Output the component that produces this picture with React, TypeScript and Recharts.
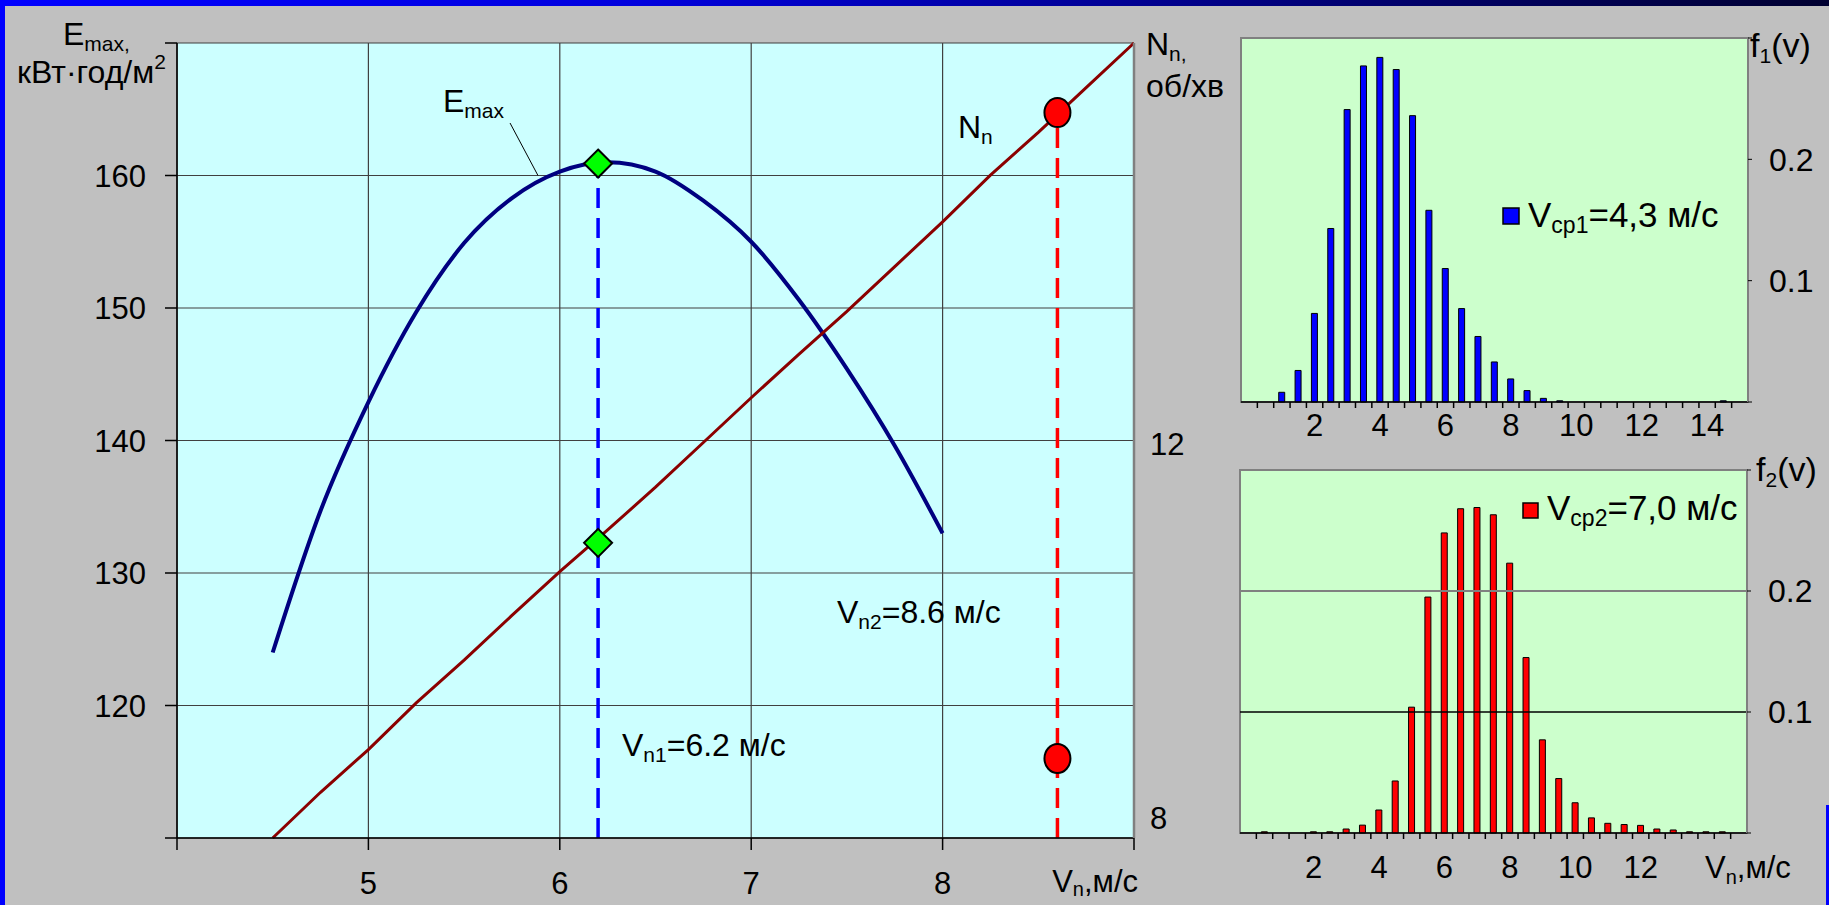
import React from 'react';
import {
  ComposedChart,
  BarChart,
  Bar,
  Line,
  Scatter,
  XAxis,
  YAxis,
  CartesianGrid,
  ReferenceLine,
  ReferenceArea,
} from 'recharts';

const FONT = '"Liberation Sans", Arial, Helvetica, sans-serif';

// main chart: Emax(V) curve and rotor speed Nn(V)
const emaxSpeed = [4.5, 4.75, 5, 5.25, 5.5, 5.75, 6, 6.25, 6.5, 6.75, 7, 7.25, 7.5, 7.75, 8];
const emaxValue = [124.0, 134.7, 142.9, 149.7, 154.9, 158.3, 160.3, 161.0, 160.3, 158.1, 155.0, 150.6, 145.4, 139.6, 133.0];

const rotorSpeed = [4.5, 4.75, 5, 5.25, 5.5, 5.75, 6, 6.25, 6.5, 6.75, 7, 7.25, 7.5, 7.75, 8, 8.25, 8.5, 8.75, 9];
const rotorValue = [8.0, 8.46, 8.89, 9.36, 9.79, 10.24, 10.68, 11.1, 11.53, 11.98, 12.43, 12.87, 13.3, 13.75, 14.2, 14.67, 15.1, 15.55, 16.0];

// Vn1 = 6.2, Vn2 = 8.6
const markSpeed = [6.2, 8.6];
const markEmax = [160.9, 116.0];
const markRotor = [10.97, 15.3];
const markKind = ['diamond', 'circle'];

const eTicks = [110, 120, 130, 140, 150, 160, 170];
const eLabels = [120, 130, 140, 150, 160];
const nTicks = [8, 12, 16];
const vTicks = [4, 5, 6, 7, 8, 9];

// wind speed distributions
const histSpeed = [0, 0.5, 1, 1.5, 2, 2.5, 3, 3.5, 4, 4.5, 5, 5.5, 6, 6.5, 7, 7.5, 8, 8.5, 9, 9.5, 10, 10.5, 11, 11.5, 12, 12.5, 13, 13.5, 14, 14.5, 15];
const f1 = [0, 0, 0.008, 0.026, 0.073, 0.143, 0.241, 0.277, 0.284, 0.274, 0.236, 0.158, 0.11, 0.077, 0.054, 0.033, 0.019, 0.0094, 0.003, 0.001, 0, 0, 0, 0, 0, 0, 0, 0, 0, 0.001, 0];
const f2 = [0, 0.001, 0, 0, 0.001, 0.001, 0.0033, 0.0065, 0.019, 0.043, 0.104, 0.195, 0.248, 0.268, 0.269, 0.263, 0.223, 0.145, 0.077, 0.045, 0.025, 0.0125, 0.008, 0.007, 0.0063, 0.0033, 0.0025, 0.001, 0.001, 0.001, 0];
const f1Labels = [2, 4, 6, 8, 10, 12, 14];
const f2Labels = [2, 4, 6, 8, 10, 12];
const fTicks = [0, 0.1, 0.2, 0.3];

const emaxData = emaxSpeed.map((v, i) => ({ v, e: emaxValue[i] }));
const rotorData = rotorSpeed.map((v, i) => ({ v, n: rotorValue[i] }));
const markE = markSpeed.map((v, i) => ({ v, y: markEmax[i], kind: markKind[i] }));
const markN = markSpeed.map((v, i) => ({ v, y: markRotor[i], kind: markKind[i] }));
const hist1 = histSpeed.map((v, i) => ({ v, f: f1[i] }));
const hist2 = histSpeed.map((v, i) => ({ v, f: f2[i] }));

// small tick marks sit between the bars, labels under the bars
const boundaryTicks = histSpeed.slice(0, -1).map((v) => v + 0.25);
const h1Ticks = [...boundaryTicks, ...f1Labels].sort((a, b) => a - b);
const h2Ticks = [...boundaryTicks, ...f2Labels].sort((a, b) => a - b);

function Marker(props: any) {
  const { cx, cy, payload } = props;
  if (payload.kind === 'diamond') {
    return (
      <path
        d={`M${cx},${cy - 14}L${cx + 14},${cy}L${cx},${cy + 14}L${cx - 14},${cy}Z`}
        fill="#00ff00"
        stroke="#000"
        strokeWidth={2}
      />
    );
  }
  return <ellipse cx={cx} cy={cy} rx={13} ry={14.5} fill="#ff0000" stroke="#000" strokeWidth={2} />;
}

function MainXTick(props: any) {
  const { x, y, payload } = props;
  const v = payload.value;
  if (v === 4) return <g />;
  if (v === 9) {
    return (
      <text x={x + 4} y={y + 42} textAnchor="end" fontSize={31} fill="#000">
        V<tspan fontSize={20} dy={4}>n</tspan>
        <tspan dy={-4}>,м/с</tspan>
      </text>
    );
  }
  return (
    <text x={x} y={y + 44} textAnchor="middle" fontSize={31} fill="#000">
      {v}
    </text>
  );
}

function NTick(props: any) {
  const { x, y, payload } = props;
  const v = payload.value;
  if (v === 16) return <g />;
  return (
    <text x={x} y={v === 8 ? y - 20 : y + 3} dy="0.36em" textAnchor="start" fontSize={31} fill="#000">
      {v}
    </text>
  );
}

function histTick(labels: number[], dyLabel: number) {
  return (props: any) => {
    const { x, y, payload } = props;
    const v = payload.value;
    if (labels.includes(v)) {
      return (
        <text x={x} y={y + dyLabel} textAnchor="middle" fontSize={31} fill="#000">
          {v}
        </text>
      );
    }
    return <line x1={x} x2={x} y1={y} y2={y + 6} stroke="#000" strokeWidth={1.5} />;
  };
}

const fmtF = (v: number) => (v === 0.1 || v === 0.2 ? String(v) : '');

function Annot({ x, y, main, sub, rest, size = 32, subSize = 21, shift = 6 }: any) {
  return (
    <text x={x} y={y} fontSize={size} fill="#000">
      {main}
      <tspan fontSize={subSize} dy={shift}>
        {sub}
      </tspan>
      {rest ? <tspan dy={-shift}>{rest}</tspan> : null}
    </text>
  );
}

export default function App() {
  return (
    <div
      style={{
        position: 'fixed',
        left: 0,
        top: 0,
        width: 1829,
        height: 905,
        overflow: 'hidden',
        fontFamily: FONT,
        background: 'linear-gradient(90deg, #0000ff 0%, #0000dd 35%, #00006e 75%, #000030 100%)',
      }}
    >
      <div style={{ position: 'absolute', left: 5, top: 6, width: 1824, height: 899, background: '#c0c0c0' }} />
      <div style={{ position: 'absolute', left: 1826, top: 805, width: 3, height: 100, background: '#0000ff' }} />

      <div style={{ position: 'absolute', left: 0, top: 0 }}>
        <ComposedChart width={1220} height={905} margin={{ top: 43, right: 6, bottom: 7, left: 87 }}>
          <CartesianGrid yAxisId="E" stroke="#404040" strokeWidth={1.2} fill="#ccffff" fillOpacity={1} />
          <XAxis
            dataKey="v"
            type="number"
            domain={[4, 9]}
            ticks={vTicks}
            interval={0}
            height={60}
            tickSize={12}
            tickMargin={0}
            axisLine={{ stroke: '#000', strokeWidth: 1.5 }}
            tickLine={{ stroke: '#000', strokeWidth: 1.5 }}
            tick={<MainXTick />}
          />
          <YAxis
            yAxisId="E"
            type="number"
            domain={[110, 170]}
            ticks={eTicks}
            interval={0}
            width={90}
            tickSize={12}
            tickMargin={19}
            axisLine={{ stroke: '#000', strokeWidth: 1.5 }}
            tickLine={{ stroke: '#000', strokeWidth: 1.5 }}
            tick={{ fontSize: 31, fill: '#000' }}
            tickFormatter={(v: number) => (eLabels.includes(v) ? String(v) : '')}
          />
          <YAxis
            yAxisId="N"
            orientation="right"
            type="number"
            domain={[8, 16]}
            ticks={nTicks}
            interval={0}
            width={80}
            tickSize={0}
            tickMargin={16}
            tickLine={false}
            axisLine={{ stroke: '#808080', strokeWidth: 2.5 }}
            tick={<NTick />}
          />
          {/* leader from the Emax caption to the curve */}
          <ReferenceLine
            yAxisId="E"
            segment={[
              { x: 5.74, y: 163.96 },
              { x: 5.886, y: 160 },
            ]}
            stroke="#000"
            strokeWidth={1}
          />
          <ReferenceLine
            yAxisId="E"
            segment={[
              { x: markSpeed[0], y: 110 },
              { x: markSpeed[0], y: markEmax[0] },
            ]}
            stroke="#0000ff"
            strokeWidth={3.5}
            strokeDasharray="20 10"
          />
          <ReferenceLine
            yAxisId="N"
            segment={[
              { x: markSpeed[1], y: 8 },
              { x: markSpeed[1], y: markRotor[1] },
            ]}
            stroke="#ff0000"
            strokeWidth={3.5}
            strokeDasharray="20 10"
          />
          <Line
            yAxisId="E"
            data={emaxData}
            dataKey="e"
            type="monotone"
            stroke="#000080"
            strokeWidth={4}
            dot={false}
            isAnimationActive={false}
          />
          <Line
            yAxisId="N"
            data={rotorData}
            dataKey="n"
            type="linear"
            stroke="#8b0000"
            strokeWidth={3}
            dot={false}
            isAnimationActive={false}
          />
          <Scatter yAxisId="E" data={markE} dataKey="y" shape={Marker} isAnimationActive={false} />
          <Scatter yAxisId="N" data={markN} dataKey="y" shape={Marker} isAnimationActive={false} />
        </ComposedChart>
      </div>

      <div style={{ position: 'absolute', left: 1230, top: 0 }}>
        <BarChart width={599} height={450} margin={{ top: 38, right: 11, bottom: 8, left: 11 }} data={hist1} barSize={6}>
          <CartesianGrid horizontal={false} vertical={false} fill="#ccffcc" fillOpacity={1} />
          <ReferenceArea x1={-0.25} x2={15.25} y1={0} y2={0.3} fill="none" stroke="#808080" strokeWidth={2} />
          <XAxis
            dataKey="v"
            type="number"
            domain={[-0.25, 15.25]}
            ticks={h1Ticks}
            interval={0}
            height={40}
            tickSize={0}
            tickMargin={0}
            tickLine={false}
            axisLine={{ stroke: '#000', strokeWidth: 1.5 }}
            tick={histTick(f1Labels, 34)}
          />
          <YAxis
            orientation="right"
            type="number"
            domain={[0, 0.3]}
            ticks={fTicks}
            interval={0}
            width={70}
            tickSize={4}
            tickMargin={17}
            axisLine={{ stroke: '#808080', strokeWidth: 2 }}
            tickLine={{ stroke: '#000' }}
            tick={{ fontSize: 32, fill: '#000' }}
            tickFormatter={fmtF}
          />
          <Bar dataKey="f" fill="#0000ff" stroke="#000" strokeWidth={1} isAnimationActive={false} />
        </BarChart>
      </div>

      <div style={{ position: 'absolute', left: 1230, top: 450 }}>
        <BarChart width={599} height={455} margin={{ top: 20, right: 12, bottom: 12, left: 10 }} data={hist2} barSize={6}>
          <CartesianGrid horizontal={false} vertical={false} fill="#ccffcc" fillOpacity={1} />
          <ReferenceArea x1={-0.25} x2={15.25} y1={0} y2={0.3} fill="none" stroke="#808080" strokeWidth={2} />
          <ReferenceLine y={0.2} stroke="#808080" strokeWidth={2} />
          <ReferenceLine y={0.1} stroke="#000" strokeWidth={1.5} />
          <XAxis
            dataKey="v"
            type="number"
            domain={[-0.25, 15.25]}
            ticks={h2Ticks}
            interval={0}
            height={60}
            tickSize={0}
            tickMargin={0}
            tickLine={false}
            axisLine={{ stroke: '#000', strokeWidth: 1.5 }}
            tick={histTick(f2Labels, 45)}
          />
          <YAxis
            orientation="right"
            type="number"
            domain={[0, 0.3]}
            ticks={fTicks}
            interval={0}
            width={70}
            tickSize={4}
            tickMargin={17}
            axisLine={{ stroke: '#808080', strokeWidth: 2 }}
            tickLine={{ stroke: '#000' }}
            tick={{ fontSize: 32, fill: '#000' }}
            tickFormatter={fmtF}
          />
          <Bar dataKey="f" fill="#ff0000" stroke="#000" strokeWidth={1} isAnimationActive={false} />
        </BarChart>
      </div>

      <svg
        width={1829}
        height={905}
        style={{ position: 'absolute', left: 0, top: 0, pointerEvents: 'none', fontFamily: FONT }}
      >
        <Annot x={63} y={45} main="E" sub="max," />
        <Annot x={17} y={83} main="кВт·год/м" sub="2" shift={-14} />
        <Annot x={1146} y={55} main="N" sub="n," />
        <text x={1146} y={97} fontSize={32} fill="#000">
          об/хв
        </text>
        <Annot x={443} y={112} main="E" sub="max" />
        <Annot x={958} y={138} main="N" sub="n" />
        <Annot x={837} y={623} main="V" sub="n2" rest="=8.6 м/с" />
        <Annot x={622} y={756} main="V" sub="n1" rest="=6.2 м/с" />

        <rect x={1503} y={208} width={16} height={16} fill="#0000ff" stroke="#000" strokeWidth={1.5} />
        <Annot x={1528} y={227} main="V" sub="ср1" rest="=4,3 м/с" size={35} subSize={23} />
        <Annot x={1750} y={57} main="f" sub="1" rest="(v)" size={34} />

        <rect x={1523} y={503} width={15} height={15} fill="#ff0000" stroke="#000" strokeWidth={1.5} />
        <Annot x={1547} y={520} main="V" sub="ср2" rest="=7,0 м/с" size={35} subSize={23} />
        <Annot x={1756} y={481} main="f" sub="2" rest="(v)" size={34} />
        <Annot x={1705} y={878} main="V" sub="n" rest=",м/с" size={31} subSize={20} />
      </svg>
    </div>
  );
}
